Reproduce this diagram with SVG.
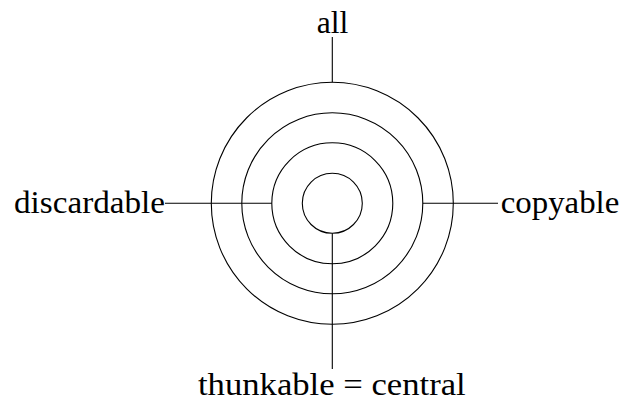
<svg xmlns="http://www.w3.org/2000/svg" width="620" height="406" viewBox="0 0 620 406">
<style>
.c{fill:none;stroke:#000;stroke-width:1.1}
.l{fill:none;stroke:#000;stroke-width:1.1}
text{font-family:"Liberation Serif","Times New Roman",serif;font-size:30.5px;fill:#000}
</style>
<rect width="620" height="406" fill="#fff"/>
<g id="rings">
<circle class="c" cx="332.3" cy="203.3" r="121"/>
<circle class="c" cx="332.3" cy="203.3" r="90.5"/>
<circle class="c" cx="332.3" cy="203.3" r="60.5"/>
<circle class="c" cx="332.3" cy="203.3" r="30"/>
</g>
<g id="connectors">
<line class="l" x1="332.3" y1="37" x2="332.3" y2="82.3"/>
<line class="l" x1="332.3" y1="233.3" x2="332.3" y2="369"/>
<line class="l" x1="165" y1="203.3" x2="271.8" y2="203.3"/>
<line class="l" x1="422.8" y1="203.3" x2="498" y2="203.3"/>
</g>
<g id="all"><text x="316.7" y="33" textLength="31.6" lengthAdjust="spacingAndGlyphs">all</text></g>
<g id="discardable"><text x="14" y="213.3" textLength="151" lengthAdjust="spacingAndGlyphs">discardable</text></g>
<g id="copyable"><text x="500.7" y="213.3" textLength="118.6" lengthAdjust="spacingAndGlyphs">copyable</text></g>
<g id="thunkable"><text x="198" y="394.5" textLength="267.7" lengthAdjust="spacingAndGlyphs">thunkable = central</text></g>
</svg>
